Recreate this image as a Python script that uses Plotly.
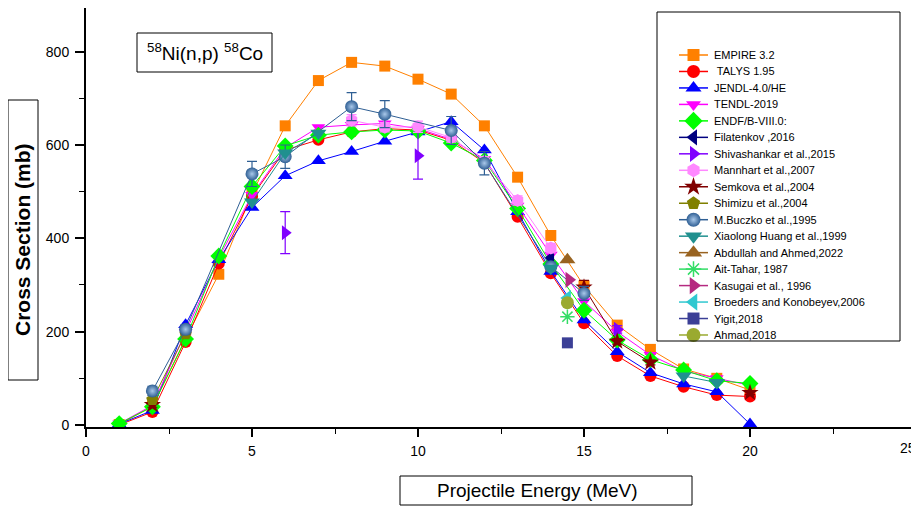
import plotly.graph_objects as go

# ---------------- data ----------------
energy = [1, 2, 3, 4, 5, 6, 7, 8, 9, 10, 11, 12, 13, 14, 15, 16, 17, 18, 19, 20]
empire = [1, 40, 185, 323, 495, 641, 738, 777, 769, 741, 709, 641, 531, 406, 298, 214, 162, 120, 100, 75]
talys = [0, 28, 178, 346, 490, 589, 611, 628, 635, 632, 610, 562, 446, 325, 218, 148, 105, 82, 64, 61]
jendl = [2, 31, 215, 354, 466, 534, 566, 586, 608, 628, 650, 589, 457, 329, 225, 157, 112, 88, 71, 2]
tendl = [3, 42, 198, 358, 493, 594, 638, 643, 646, 635, 612, 570, 470, 365, 265, 200, 150, 116, 100, 85]
endf = [3, 39, 184, 362, 511, 598, 621, 628, 632, 630, 604, 567, 464, 345, 246, 182, 140, 118, 95, 89]

# experimental sets (None = gap between separate measurement runs)
filatenkov_x = [14.0]
filatenkov_y = [358]
shiva_x = [6, 10, 16]
shiva_y = [412, 577, 205]
shiva_err = [45, 50, 8]
mannhart_x = [3, None, 8, 9, 10, 11, 12, 13, 14]
mannhart_y = [200, None, 653, 638, 639, 616, 565, 481, 379]
mannhart_err = [8, 0, 12, 10, 12, 10, 10, 10, 10]
semkova_x = [2, None, 15, 16, 17, None, 20]
semkova_y = [43, None, 295, 179, 134, None, 69]
semkova_err = [5, 0, 15, 6, 5, 0, 4]
shimizu_x = [2, 3]
shimizu_y = [54, 195]
buczko_x = [2, 3, 5, 6, 8, 9, 11, 12, 14, 15]
buczko_y = [73, 205, 538, 575, 682, 666, 631, 561, 339, 282]
buczko_err = [10, 10, 27, 25, 30, 29, 30, 25, 10, 15]
huang_x = [5, 6, 7, None, 14, None, 18, 19]
huang_y = [478, 583, 625, None, 336, None, 105, 91]
abdullah_x = [14.5]
abdullah_y = [354]
aittahar_x = [14.5]
aittahar_y = [232]
kasugai_x = [14.55]
kasugai_y = [311]
broeders_x = [14.5]
broeders_y = [272]
yigit_x = [14.5]
yigit_y = [176]
ahmad_x = [14.5]
ahmad_y = [262]

x_tickvals = [0, 5, 10, 15, 20, 25]
x_ticktext = ["0", "5", "10", "15", "20", ""]   # "25" drawn separately at the edge

# ---------------- figure geometry ----------------
# The page has an 8px body margin, so the figure is 8px smaller each way.
OFF = 8
W, H = 919 - OFF, 507 - OFF
L, R, T, B = 86 - OFF, 3, 0, 80
PW, PH = W - L - R, H - T - B


def px(xr):   # reference-picture x pixel -> paper
    return (xr - OFF - L) / PW


def py(yr):   # reference-picture y pixel -> paper
    return (H - B - (yr - OFF)) / PH


fig = go.Figure()

series = []


def add(name, x, y, color, symbol, size=11, mode="lines+markers", err=None,
        lw=1, mline=None, gradient=None):
    marker = dict(color=color, symbol=symbol, size=size,
                  line=dict(width=0, color=color))
    if mline:
        marker["line"] = mline
    if gradient:
        marker["gradient"] = gradient
    kw = {}
    if err is not None:
        kw["error_y"] = dict(type="data", array=err, visible=True,
                             color=color, thickness=1.2, width=5)
    fig.add_trace(go.Scatter(x=x, y=y, name=name, mode=mode,
                             line=dict(color=color, width=lw),
                             marker=marker, showlegend=False,
                             connectgaps=False, **kw))
    series.append((name, color, marker))


add("EMPIRE 3.2", energy, empire, "#FF8000", "square", 11)
add(" TALYS 1.95", energy, talys, "#FF0000", "circle", 12)
add("JENDL-4.0/HE", energy, jendl, "#0000FF", "triangle-up", 13)
add("TENDL-2019", energy, tendl, "#FF00FF", "triangle-down", 12)
add("ENDF/B-VIII.0:", energy, endf, "#00FF00", "diamond", 13)
add("Filatenkov ,2016", filatenkov_x, filatenkov_y, "#000080", "triangle-left", 13)
add("Shivashankar et al.,2015", shiva_x, shiva_y, "#8000FF", "triangle-right", 13,
    mode="markers", err=shiva_err)
add("Mannhart et al.,2007", mannhart_x, mannhart_y, "#FF88FF", "hexagon", 13,
    err=mannhart_err)
add("Semkova et al.,2004", semkova_x, semkova_y, "#800000", "star", 13,
    err=semkova_err)
add("Shimizu et al.,2004", shimizu_x, shimizu_y, "#808000", "pentagon", 13)
add("M.Buczko et al.,1995", buczko_x, buczko_y, "#2F5F94", "circle", 13,
    err=buczko_err, gradient=dict(type="radial", color="#A9C8EA"))
add("Xiaolong Huang et al.,1999", huang_x, huang_y, "#20908F", "triangle-down", 14)
add("Abdullah and Ahmed,2022", abdullah_x, abdullah_y, "#996320", "triangle-up", 14)
add("Ait-Tahar, 1987", aittahar_x, aittahar_y, "#33DD66", "asterisk-open", 12,
    mline=dict(color="#33DD66", width=1.5))
add("Kasugai et al., 1996", kasugai_x, kasugai_y, "#B52A80", "triangle-right", 14)
add("Broeders and Konobeyev,2006", broeders_x, broeders_y, "#30C8D0", "triangle-left", 14)
add("Yigit,2018", yigit_x, yigit_y, "#3B3F96", "square", 11)
add("Ahmad,2018", ahmad_x, ahmad_y, "#9AAA30", "circle", 13)

font_main = "Arial, Liberation Sans, sans-serif"

# ---------------- compact legend (drawn on an overlay axis in pixel units) ----
LEG_FIRST, LEG_STEP = 55, 16.47
LEG_X0, LEG_X1, LEG_TXT = 679, 708, 712
for i, (name, color, marker) in enumerate(series):
    yy = LEG_FIRST + i * LEG_STEP
    m = dict(marker)
    m["size"] = marker["size"] + 1
    fig.add_trace(go.Scatter(x=[LEG_X0, LEG_X1], y=[yy, yy], mode="lines",
                             line=dict(color=color, width=1.5),
                             xaxis="x2", yaxis="y2", showlegend=False,
                             hoverinfo="skip", cliponaxis=False))
    fig.add_trace(go.Scatter(x=[(LEG_X0 + LEG_X1) / 2], y=[yy], mode="markers",
                             marker=m, xaxis="x2", yaxis="y2", showlegend=False,
                             hoverinfo="skip", cliponaxis=False))
    fig.add_annotation(x=LEG_TXT, y=yy, xref="x2", yref="y2", text=name,
                       xanchor="left", yanchor="middle", showarrow=False,
                       font=dict(size=11, family=font_main, color="black"))

fig.update_layout(
    width=W, height=H,
    margin=dict(l=L, r=R, t=T, b=B, autoexpand=False),
    paper_bgcolor="white", plot_bgcolor="white",
    showlegend=False,
    font=dict(family=font_main, color="black"),
    xaxis2=dict(overlaying="x", anchor="y2", range=[86, 916], visible=False,
                domain=[0, 1]),
    yaxis2=dict(overlaying="y", anchor="x2", range=[427, 8], visible=False,
                domain=[0, 1]),
    xaxis=dict(range=[0, 25], showgrid=False, zeroline=False,
               showline=True, linecolor="black", linewidth=2,
               ticks="outside", ticklen=8, tickwidth=1.5, tickcolor="black",
               tickmode="array", tickvals=x_tickvals, ticktext=x_ticktext,
               ticklabelstandoff=2, automargin=False,
               minor=dict(dtick=2.5, tick0=0, ticks="outside", ticklen=5,
                          tickwidth=1.2, tickcolor="black"),
               tickfont=dict(size=14, family=font_main)),
    yaxis=dict(range=[-4.3, 893.5], showgrid=False, zeroline=False,
               showline=True, linecolor="black", linewidth=2, mirror=True,
               ticks="outside", ticklen=9, tickwidth=1.5, tickcolor="black",
               dtick=200, tick0=0, ticklabelstandoff=3, automargin=False,
               minor=dict(dtick=100, ticks="outside", ticklen=5, tickwidth=1.2,
                          tickcolor="black"),
               tickfont=dict(size=14, family=font_main)),
)

shapes = []


def box(x0, y0, x1, y1, w=1):
    shapes.append(dict(type="rect", xref="paper", yref="paper",
                       x0=px(x0), x1=px(x1), y0=py(y1), y1=py(y0),
                       line=dict(color="black", width=w), fillcolor="rgba(0,0,0,0)"))


box(657, 12, 900, 341)   # legend box
box(137, 33, 272, 72)    # reaction label
box(8, 100, 38, 380)     # y title
box(400, 476, 692, 505)  # x title
fig.update_layout(shapes=shapes)

# last x tick label, kept inside the page edge
fig.add_annotation(x=px(918), y=py(448), xref="paper", yref="paper",
                   xanchor="right", yanchor="middle", text="25", showarrow=False,
                   font=dict(size=14, family=font_main))
fig.add_annotation(x=px(204.5), y=py(52), xref="paper", yref="paper",
                   xanchor="center", yanchor="middle",
                   text="<sup>58</sup>Ni(n,p) <sup>58</sup>Co", showarrow=False,
                   font=dict(size=19, family=font_main))
fig.add_annotation(x=px(23), y=py(240), xref="paper", yref="paper",
                   xanchor="center", yanchor="middle",
                   text="<b>Cross Section (mb)</b>", textangle=-90, showarrow=False,
                   font=dict(size=21, family=font_main))
fig.add_annotation(x=px(537), y=py(490), xref="paper", yref="paper",
                   xanchor="center", yanchor="middle",
                   text="Projectile Energy (MeV)", showarrow=False,
                   font=dict(size=19, family=font_main))

fig.write_html("out.html")
